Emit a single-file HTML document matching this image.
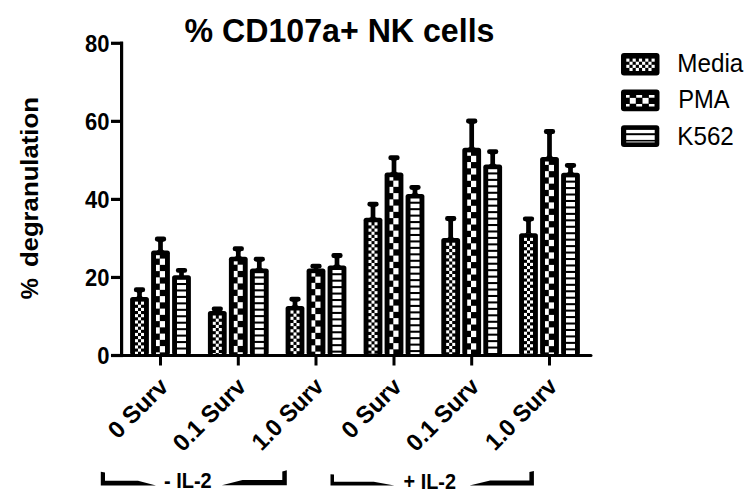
<!DOCTYPE html>
<html><head><meta charset="utf-8"><style>
html,body{margin:0;padding:0;background:#fff;}
body{width:755px;height:504px;overflow:hidden;}
svg{display:block;}
text{font-family:"Liberation Sans",sans-serif;fill:#000;}
.tl{font-size:22px;font-weight:bold;}
.xl{font-size:24px;font-weight:bold;}
.title{font-size:32px;font-weight:bold;}
.yl{font-size:26px;font-weight:bold;}
.lg{font-size:25px;}
.il{font-size:21px;font-weight:bold;}
</style></head><body>
<svg width="755" height="504" viewBox="0 0 755 504">
<text class="title" transform="translate(184.5,42.4) scale(1,1.065)" textLength="310" lengthAdjust="spacingAndGlyphs">% CD107a+ NK cells</text>
<text class="yl" transform="translate(38,299.2) rotate(-90) scale(1,0.92)" textLength="21" lengthAdjust="spacingAndGlyphs">%</text>
<text class="yl" transform="translate(38,267.1) rotate(-90) scale(1,0.92)" textLength="170" lengthAdjust="spacingAndGlyphs">degranulation</text>
<rect x="120" y="41.7" width="3.2" height="315.3" fill="#000"/>
<rect x="111" y="353.9" width="481.5" height="3.2" rx="1.5" fill="#000"/>
<rect x="111" y="353.9" width="12" height="3.2" fill="#000"/>
<text class="tl" transform="translate(109.5,364.3) scale(1,1.11)" text-anchor="end">0</text>
<rect x="111" y="275.85" width="12" height="3.2" fill="#000"/>
<text class="tl" transform="translate(109.5,286.25) scale(1,1.11)" text-anchor="end">20</text>
<rect x="111" y="197.8" width="12" height="3.2" fill="#000"/>
<text class="tl" transform="translate(109.5,208.2) scale(1,1.11)" text-anchor="end">40</text>
<rect x="111" y="119.75" width="12" height="3.2" fill="#000"/>
<text class="tl" transform="translate(109.5,130.15) scale(1,1.11)" text-anchor="end">60</text>
<rect x="111" y="41.7" width="12" height="3.2" fill="#000"/>
<text class="tl" transform="translate(109.5,52.1) scale(1,1.11)" text-anchor="end">80</text>
<rect x="159" y="354" width="3" height="11.5" fill="#000"/>
<rect x="236.8" y="354" width="3" height="11.5" fill="#000"/>
<rect x="314.5" y="354" width="3" height="11.5" fill="#000"/>
<rect x="392.5" y="354" width="3" height="11.5" fill="#000"/>
<rect x="470.2" y="354" width="3" height="11.5" fill="#000"/>
<rect x="548" y="354" width="3" height="11.5" fill="#000"/>
<path d="M135.85,291.4 L143.15,291.4 L143.15,291.9 Q141.85,291.9 141.85,293.2 L141.85,295.7 Q141.85,297 143.15,297 L143.15,297.5 L135.85,297.5 L135.85,297 Q137.15,297 137.15,295.7 L137.15,293.2 Q137.15,291.9 135.85,291.9 Z" fill="#000"/>
<rect x="133.9" y="287.3" width="11.2" height="4.8" rx="2.2" fill="#000"/>
<rect x="130.1" y="297" width="18.8" height="58" rx="2.6" fill="#000"/>
<rect x="135" y="301.6" width="3" height="3.13" fill="#fff"/>
<rect x="141" y="301.6" width="3" height="3.13" fill="#fff"/>
<rect x="138" y="304.73" width="3" height="3.13" fill="#fff"/>
<rect x="135" y="307.86" width="3" height="3.13" fill="#fff"/>
<rect x="141" y="307.86" width="3" height="3.13" fill="#fff"/>
<rect x="138" y="310.99" width="3" height="3.13" fill="#fff"/>
<rect x="135" y="314.12" width="3" height="3.13" fill="#fff"/>
<rect x="141" y="314.12" width="3" height="3.13" fill="#fff"/>
<rect x="138" y="317.25" width="3" height="3.13" fill="#fff"/>
<rect x="135" y="320.38" width="3" height="3.13" fill="#fff"/>
<rect x="141" y="320.38" width="3" height="3.13" fill="#fff"/>
<rect x="138" y="323.51" width="3" height="3.13" fill="#fff"/>
<rect x="135" y="326.64" width="3" height="3.13" fill="#fff"/>
<rect x="141" y="326.64" width="3" height="3.13" fill="#fff"/>
<rect x="138" y="329.77" width="3" height="3.13" fill="#fff"/>
<rect x="135" y="332.9" width="3" height="3.13" fill="#fff"/>
<rect x="141" y="332.9" width="3" height="3.13" fill="#fff"/>
<rect x="138" y="336.03" width="3" height="3.13" fill="#fff"/>
<rect x="135" y="339.16" width="3" height="3.13" fill="#fff"/>
<rect x="141" y="339.16" width="3" height="3.13" fill="#fff"/>
<rect x="138" y="342.29" width="3" height="3.13" fill="#fff"/>
<rect x="135" y="345.42" width="3" height="3.13" fill="#fff"/>
<rect x="141" y="345.42" width="3" height="3.13" fill="#fff"/>
<rect x="138" y="348.55" width="3" height="3.13" fill="#fff"/>
<rect x="135" y="351.68" width="3" height="2.32" fill="#fff"/>
<rect x="141" y="351.68" width="3" height="2.32" fill="#fff"/>
<path d="M156.85,240.7 L164.15,240.7 L164.15,241.2 Q162.85,241.2 162.85,242.5 L162.85,249.3 Q162.85,250.6 164.15,250.6 L164.15,251.1 L156.85,251.1 L156.85,250.6 Q158.15,250.6 158.15,249.3 L158.15,242.5 Q158.15,241.2 156.85,241.2 Z" fill="#000"/>
<rect x="154.9" y="236.6" width="11.2" height="4.8" rx="2.2" fill="#000"/>
<rect x="151.1" y="250.6" width="18.8" height="104.4" rx="2.6" fill="#000"/>
<rect x="156" y="255.2" width="3.8" height="3.4" fill="#fff"/>
<rect x="159.8" y="258.6" width="5.2" height="6.25" fill="#fff"/>
<rect x="156" y="264.85" width="3.8" height="6.25" fill="#fff"/>
<rect x="159.8" y="271.1" width="5.2" height="6.25" fill="#fff"/>
<rect x="156" y="277.35" width="3.8" height="6.25" fill="#fff"/>
<rect x="159.8" y="283.6" width="5.2" height="6.25" fill="#fff"/>
<rect x="156" y="289.85" width="3.8" height="6.25" fill="#fff"/>
<rect x="159.8" y="296.1" width="5.2" height="6.25" fill="#fff"/>
<rect x="156" y="302.35" width="3.8" height="6.25" fill="#fff"/>
<rect x="159.8" y="308.6" width="5.2" height="6.25" fill="#fff"/>
<rect x="156" y="314.85" width="3.8" height="6.25" fill="#fff"/>
<rect x="159.8" y="321.1" width="5.2" height="6.25" fill="#fff"/>
<rect x="156" y="327.35" width="3.8" height="6.25" fill="#fff"/>
<rect x="159.8" y="333.6" width="5.2" height="6.25" fill="#fff"/>
<rect x="156" y="339.85" width="3.8" height="6.25" fill="#fff"/>
<rect x="159.8" y="346.1" width="5.2" height="6.25" fill="#fff"/>
<rect x="156" y="352.35" width="3.8" height="1.65" fill="#fff"/>
<rect x="179.15" y="270.3" width="4.7" height="6.9" fill="#000"/>
<rect x="175.9" y="267.9" width="11.2" height="4.8" rx="2.2" fill="#000"/>
<rect x="172.1" y="275.2" width="18.8" height="79.8" rx="2.6" fill="#000"/>
<rect x="177" y="279.8" width="9" height="3.2" fill="#fff"/>
<rect x="177" y="285.05" width="9" height="4.4" fill="#fff"/>
<rect x="177" y="291.5" width="9" height="4.4" fill="#fff"/>
<rect x="177" y="297.95" width="9" height="4.4" fill="#fff"/>
<rect x="177" y="304.4" width="9" height="4.4" fill="#fff"/>
<rect x="177" y="310.85" width="9" height="4.4" fill="#fff"/>
<rect x="177" y="317.3" width="9" height="4.4" fill="#fff"/>
<rect x="177" y="323.75" width="9" height="4.4" fill="#fff"/>
<rect x="177" y="330.2" width="9" height="4.4" fill="#fff"/>
<rect x="177" y="336.65" width="9" height="4.4" fill="#fff"/>
<rect x="177" y="343.1" width="9" height="4.4" fill="#fff"/>
<rect x="177" y="349.55" width="9" height="4.4" fill="#fff"/>
<rect x="214.95" y="308.9" width="4.7" height="4" fill="#000"/>
<rect x="211.7" y="306.5" width="11.2" height="4.8" rx="2.2" fill="#000"/>
<rect x="207.9" y="310.9" width="18.8" height="44.1" rx="2.6" fill="#000"/>
<rect x="212.8" y="315.5" width="3" height="3.13" fill="#fff"/>
<rect x="218.8" y="315.5" width="3" height="3.13" fill="#fff"/>
<rect x="215.8" y="318.63" width="3" height="3.13" fill="#fff"/>
<rect x="212.8" y="321.76" width="3" height="3.13" fill="#fff"/>
<rect x="218.8" y="321.76" width="3" height="3.13" fill="#fff"/>
<rect x="215.8" y="324.89" width="3" height="3.13" fill="#fff"/>
<rect x="212.8" y="328.02" width="3" height="3.13" fill="#fff"/>
<rect x="218.8" y="328.02" width="3" height="3.13" fill="#fff"/>
<rect x="215.8" y="331.15" width="3" height="3.13" fill="#fff"/>
<rect x="212.8" y="334.28" width="3" height="3.13" fill="#fff"/>
<rect x="218.8" y="334.28" width="3" height="3.13" fill="#fff"/>
<rect x="215.8" y="337.41" width="3" height="3.13" fill="#fff"/>
<rect x="212.8" y="340.54" width="3" height="3.13" fill="#fff"/>
<rect x="218.8" y="340.54" width="3" height="3.13" fill="#fff"/>
<rect x="215.8" y="343.67" width="3" height="3.13" fill="#fff"/>
<rect x="212.8" y="346.8" width="3" height="3.13" fill="#fff"/>
<rect x="218.8" y="346.8" width="3" height="3.13" fill="#fff"/>
<rect x="215.8" y="349.93" width="3" height="3.13" fill="#fff"/>
<rect x="212.8" y="353.06" width="3" height="0.94" fill="#fff"/>
<rect x="218.8" y="353.06" width="3" height="0.94" fill="#fff"/>
<path d="M234.65,250.4 L241.95,250.4 L241.95,250.9 Q240.65,250.9 240.65,252.2 L240.65,255.4 Q240.65,256.7 241.95,256.7 L241.95,257.2 L234.65,257.2 L234.65,256.7 Q235.95,256.7 235.95,255.4 L235.95,252.2 Q235.95,250.9 234.65,250.9 Z" fill="#000"/>
<rect x="232.7" y="246.3" width="11.2" height="4.8" rx="2.2" fill="#000"/>
<rect x="228.9" y="256.7" width="18.8" height="98.3" rx="2.6" fill="#000"/>
<rect x="233.8" y="261.3" width="3.8" height="3.4" fill="#fff"/>
<rect x="237.6" y="264.7" width="5.2" height="6.25" fill="#fff"/>
<rect x="233.8" y="270.95" width="3.8" height="6.25" fill="#fff"/>
<rect x="237.6" y="277.2" width="5.2" height="6.25" fill="#fff"/>
<rect x="233.8" y="283.45" width="3.8" height="6.25" fill="#fff"/>
<rect x="237.6" y="289.7" width="5.2" height="6.25" fill="#fff"/>
<rect x="233.8" y="295.95" width="3.8" height="6.25" fill="#fff"/>
<rect x="237.6" y="302.2" width="5.2" height="6.25" fill="#fff"/>
<rect x="233.8" y="308.45" width="3.8" height="6.25" fill="#fff"/>
<rect x="237.6" y="314.7" width="5.2" height="6.25" fill="#fff"/>
<rect x="233.8" y="320.95" width="3.8" height="6.25" fill="#fff"/>
<rect x="237.6" y="327.2" width="5.2" height="6.25" fill="#fff"/>
<rect x="233.8" y="333.45" width="3.8" height="6.25" fill="#fff"/>
<rect x="237.6" y="339.7" width="5.2" height="6.25" fill="#fff"/>
<rect x="233.8" y="345.95" width="3.8" height="6.25" fill="#fff"/>
<rect x="237.6" y="352.2" width="5.2" height="1.8" fill="#fff"/>
<path d="M255.65,260.8 L262.95,260.8 L262.95,261.3 Q261.65,261.3 261.65,262.6 L261.65,267.3 Q261.65,268.6 262.95,268.6 L262.95,269.1 L255.65,269.1 L255.65,268.6 Q256.95,268.6 256.95,267.3 L256.95,262.6 Q256.95,261.3 255.65,261.3 Z" fill="#000"/>
<rect x="253.7" y="256.7" width="11.2" height="4.8" rx="2.2" fill="#000"/>
<rect x="249.9" y="268.6" width="18.8" height="86.4" rx="2.6" fill="#000"/>
<rect x="254.8" y="273.2" width="9" height="3.2" fill="#fff"/>
<rect x="254.8" y="278.45" width="9" height="4.4" fill="#fff"/>
<rect x="254.8" y="284.9" width="9" height="4.4" fill="#fff"/>
<rect x="254.8" y="291.35" width="9" height="4.4" fill="#fff"/>
<rect x="254.8" y="297.8" width="9" height="4.4" fill="#fff"/>
<rect x="254.8" y="304.25" width="9" height="4.4" fill="#fff"/>
<rect x="254.8" y="310.7" width="9" height="4.4" fill="#fff"/>
<rect x="254.8" y="317.15" width="9" height="4.4" fill="#fff"/>
<rect x="254.8" y="323.6" width="9" height="4.4" fill="#fff"/>
<rect x="254.8" y="330.05" width="9" height="4.4" fill="#fff"/>
<rect x="254.8" y="336.5" width="9" height="4.4" fill="#fff"/>
<rect x="254.8" y="342.95" width="9" height="4.4" fill="#fff"/>
<rect x="254.8" y="349.4" width="9" height="4.4" fill="#fff"/>
<path d="M291.35,300.8 L298.65,300.8 L298.65,301.3 Q297.35,301.3 297.35,302.6 L297.35,304.6 Q297.35,305.9 298.65,305.9 L298.65,306.4 L291.35,306.4 L291.35,305.9 Q292.65,305.9 292.65,304.6 L292.65,302.6 Q292.65,301.3 291.35,301.3 Z" fill="#000"/>
<rect x="289.4" y="296.7" width="11.2" height="4.8" rx="2.2" fill="#000"/>
<rect x="285.6" y="305.9" width="18.8" height="49.1" rx="2.6" fill="#000"/>
<rect x="290.5" y="310.5" width="3" height="3.13" fill="#fff"/>
<rect x="296.5" y="310.5" width="3" height="3.13" fill="#fff"/>
<rect x="293.5" y="313.63" width="3" height="3.13" fill="#fff"/>
<rect x="290.5" y="316.76" width="3" height="3.13" fill="#fff"/>
<rect x="296.5" y="316.76" width="3" height="3.13" fill="#fff"/>
<rect x="293.5" y="319.89" width="3" height="3.13" fill="#fff"/>
<rect x="290.5" y="323.02" width="3" height="3.13" fill="#fff"/>
<rect x="296.5" y="323.02" width="3" height="3.13" fill="#fff"/>
<rect x="293.5" y="326.15" width="3" height="3.13" fill="#fff"/>
<rect x="290.5" y="329.28" width="3" height="3.13" fill="#fff"/>
<rect x="296.5" y="329.28" width="3" height="3.13" fill="#fff"/>
<rect x="293.5" y="332.41" width="3" height="3.13" fill="#fff"/>
<rect x="290.5" y="335.54" width="3" height="3.13" fill="#fff"/>
<rect x="296.5" y="335.54" width="3" height="3.13" fill="#fff"/>
<rect x="293.5" y="338.67" width="3" height="3.13" fill="#fff"/>
<rect x="290.5" y="341.8" width="3" height="3.13" fill="#fff"/>
<rect x="296.5" y="341.8" width="3" height="3.13" fill="#fff"/>
<rect x="293.5" y="344.93" width="3" height="3.13" fill="#fff"/>
<rect x="290.5" y="348.06" width="3" height="3.13" fill="#fff"/>
<rect x="296.5" y="348.06" width="3" height="3.13" fill="#fff"/>
<rect x="293.5" y="351.19" width="3" height="2.81" fill="#fff"/>
<rect x="313.65" y="266.1" width="4.7" height="4.5" fill="#000"/>
<rect x="310.4" y="263.7" width="11.2" height="4.8" rx="2.2" fill="#000"/>
<rect x="306.6" y="268.6" width="18.8" height="86.4" rx="2.6" fill="#000"/>
<rect x="311.5" y="273.2" width="3.8" height="3.4" fill="#fff"/>
<rect x="315.3" y="276.6" width="5.2" height="6.25" fill="#fff"/>
<rect x="311.5" y="282.85" width="3.8" height="6.25" fill="#fff"/>
<rect x="315.3" y="289.1" width="5.2" height="6.25" fill="#fff"/>
<rect x="311.5" y="295.35" width="3.8" height="6.25" fill="#fff"/>
<rect x="315.3" y="301.6" width="5.2" height="6.25" fill="#fff"/>
<rect x="311.5" y="307.85" width="3.8" height="6.25" fill="#fff"/>
<rect x="315.3" y="314.1" width="5.2" height="6.25" fill="#fff"/>
<rect x="311.5" y="320.35" width="3.8" height="6.25" fill="#fff"/>
<rect x="315.3" y="326.6" width="5.2" height="6.25" fill="#fff"/>
<rect x="311.5" y="332.85" width="3.8" height="6.25" fill="#fff"/>
<rect x="315.3" y="339.1" width="5.2" height="6.25" fill="#fff"/>
<rect x="311.5" y="345.35" width="3.8" height="6.25" fill="#fff"/>
<rect x="315.3" y="351.6" width="5.2" height="2.4" fill="#fff"/>
<path d="M333.35,257.2 L340.65,257.2 L340.65,257.7 Q339.35,257.7 339.35,259 L339.35,264.1 Q339.35,265.4 340.65,265.4 L340.65,265.9 L333.35,265.9 L333.35,265.4 Q334.65,265.4 334.65,264.1 L334.65,259 Q334.65,257.7 333.35,257.7 Z" fill="#000"/>
<rect x="331.4" y="253.1" width="11.2" height="4.8" rx="2.2" fill="#000"/>
<rect x="327.6" y="265.4" width="18.8" height="89.6" rx="2.6" fill="#000"/>
<rect x="332.5" y="270" width="9" height="3.2" fill="#fff"/>
<rect x="332.5" y="275.25" width="9" height="4.4" fill="#fff"/>
<rect x="332.5" y="281.7" width="9" height="4.4" fill="#fff"/>
<rect x="332.5" y="288.15" width="9" height="4.4" fill="#fff"/>
<rect x="332.5" y="294.6" width="9" height="4.4" fill="#fff"/>
<rect x="332.5" y="301.05" width="9" height="4.4" fill="#fff"/>
<rect x="332.5" y="307.5" width="9" height="4.4" fill="#fff"/>
<rect x="332.5" y="313.95" width="9" height="4.4" fill="#fff"/>
<rect x="332.5" y="320.4" width="9" height="4.4" fill="#fff"/>
<rect x="332.5" y="326.85" width="9" height="4.4" fill="#fff"/>
<rect x="332.5" y="333.3" width="9" height="4.4" fill="#fff"/>
<rect x="332.5" y="339.75" width="9" height="4.4" fill="#fff"/>
<rect x="332.5" y="346.2" width="9" height="4.4" fill="#fff"/>
<rect x="332.5" y="352.65" width="9" height="1.35" fill="#fff"/>
<path d="M369.35,205.8 L376.65,205.8 L376.65,206.3 Q375.35,206.3 375.35,207.6 L375.35,216.4 Q375.35,217.7 376.65,217.7 L376.65,218.2 L369.35,218.2 L369.35,217.7 Q370.65,217.7 370.65,216.4 L370.65,207.6 Q370.65,206.3 369.35,206.3 Z" fill="#000"/>
<rect x="367.4" y="201.7" width="11.2" height="4.8" rx="2.2" fill="#000"/>
<rect x="363.6" y="217.7" width="18.8" height="137.3" rx="2.6" fill="#000"/>
<rect x="368.5" y="222.3" width="3" height="3.13" fill="#fff"/>
<rect x="374.5" y="222.3" width="3" height="3.13" fill="#fff"/>
<rect x="371.5" y="225.43" width="3" height="3.13" fill="#fff"/>
<rect x="368.5" y="228.56" width="3" height="3.13" fill="#fff"/>
<rect x="374.5" y="228.56" width="3" height="3.13" fill="#fff"/>
<rect x="371.5" y="231.69" width="3" height="3.13" fill="#fff"/>
<rect x="368.5" y="234.82" width="3" height="3.13" fill="#fff"/>
<rect x="374.5" y="234.82" width="3" height="3.13" fill="#fff"/>
<rect x="371.5" y="237.95" width="3" height="3.13" fill="#fff"/>
<rect x="368.5" y="241.08" width="3" height="3.13" fill="#fff"/>
<rect x="374.5" y="241.08" width="3" height="3.13" fill="#fff"/>
<rect x="371.5" y="244.21" width="3" height="3.13" fill="#fff"/>
<rect x="368.5" y="247.34" width="3" height="3.13" fill="#fff"/>
<rect x="374.5" y="247.34" width="3" height="3.13" fill="#fff"/>
<rect x="371.5" y="250.47" width="3" height="3.13" fill="#fff"/>
<rect x="368.5" y="253.6" width="3" height="3.13" fill="#fff"/>
<rect x="374.5" y="253.6" width="3" height="3.13" fill="#fff"/>
<rect x="371.5" y="256.73" width="3" height="3.13" fill="#fff"/>
<rect x="368.5" y="259.86" width="3" height="3.13" fill="#fff"/>
<rect x="374.5" y="259.86" width="3" height="3.13" fill="#fff"/>
<rect x="371.5" y="262.99" width="3" height="3.13" fill="#fff"/>
<rect x="368.5" y="266.12" width="3" height="3.13" fill="#fff"/>
<rect x="374.5" y="266.12" width="3" height="3.13" fill="#fff"/>
<rect x="371.5" y="269.25" width="3" height="3.13" fill="#fff"/>
<rect x="368.5" y="272.38" width="3" height="3.13" fill="#fff"/>
<rect x="374.5" y="272.38" width="3" height="3.13" fill="#fff"/>
<rect x="371.5" y="275.51" width="3" height="3.13" fill="#fff"/>
<rect x="368.5" y="278.64" width="3" height="3.13" fill="#fff"/>
<rect x="374.5" y="278.64" width="3" height="3.13" fill="#fff"/>
<rect x="371.5" y="281.77" width="3" height="3.13" fill="#fff"/>
<rect x="368.5" y="284.9" width="3" height="3.13" fill="#fff"/>
<rect x="374.5" y="284.9" width="3" height="3.13" fill="#fff"/>
<rect x="371.5" y="288.03" width="3" height="3.13" fill="#fff"/>
<rect x="368.5" y="291.16" width="3" height="3.13" fill="#fff"/>
<rect x="374.5" y="291.16" width="3" height="3.13" fill="#fff"/>
<rect x="371.5" y="294.29" width="3" height="3.13" fill="#fff"/>
<rect x="368.5" y="297.42" width="3" height="3.13" fill="#fff"/>
<rect x="374.5" y="297.42" width="3" height="3.13" fill="#fff"/>
<rect x="371.5" y="300.55" width="3" height="3.13" fill="#fff"/>
<rect x="368.5" y="303.68" width="3" height="3.13" fill="#fff"/>
<rect x="374.5" y="303.68" width="3" height="3.13" fill="#fff"/>
<rect x="371.5" y="306.81" width="3" height="3.13" fill="#fff"/>
<rect x="368.5" y="309.94" width="3" height="3.13" fill="#fff"/>
<rect x="374.5" y="309.94" width="3" height="3.13" fill="#fff"/>
<rect x="371.5" y="313.07" width="3" height="3.13" fill="#fff"/>
<rect x="368.5" y="316.2" width="3" height="3.13" fill="#fff"/>
<rect x="374.5" y="316.2" width="3" height="3.13" fill="#fff"/>
<rect x="371.5" y="319.33" width="3" height="3.13" fill="#fff"/>
<rect x="368.5" y="322.46" width="3" height="3.13" fill="#fff"/>
<rect x="374.5" y="322.46" width="3" height="3.13" fill="#fff"/>
<rect x="371.5" y="325.59" width="3" height="3.13" fill="#fff"/>
<rect x="368.5" y="328.72" width="3" height="3.13" fill="#fff"/>
<rect x="374.5" y="328.72" width="3" height="3.13" fill="#fff"/>
<rect x="371.5" y="331.85" width="3" height="3.13" fill="#fff"/>
<rect x="368.5" y="334.98" width="3" height="3.13" fill="#fff"/>
<rect x="374.5" y="334.98" width="3" height="3.13" fill="#fff"/>
<rect x="371.5" y="338.11" width="3" height="3.13" fill="#fff"/>
<rect x="368.5" y="341.24" width="3" height="3.13" fill="#fff"/>
<rect x="374.5" y="341.24" width="3" height="3.13" fill="#fff"/>
<rect x="371.5" y="344.37" width="3" height="3.13" fill="#fff"/>
<rect x="368.5" y="347.5" width="3" height="3.13" fill="#fff"/>
<rect x="374.5" y="347.5" width="3" height="3.13" fill="#fff"/>
<rect x="371.5" y="350.63" width="3" height="3.13" fill="#fff"/>
<rect x="368.5" y="353.76" width="3" height="0.24" fill="#fff"/>
<rect x="374.5" y="353.76" width="3" height="0.24" fill="#fff"/>
<path d="M390.35,159.4 L397.65,159.4 L397.65,159.9 Q396.35,159.9 396.35,161.2 L396.35,171.3 Q396.35,172.6 397.65,172.6 L397.65,173.1 L390.35,173.1 L390.35,172.6 Q391.65,172.6 391.65,171.3 L391.65,161.2 Q391.65,159.9 390.35,159.9 Z" fill="#000"/>
<rect x="388.4" y="155.3" width="11.2" height="4.8" rx="2.2" fill="#000"/>
<rect x="384.6" y="172.6" width="18.8" height="182.4" rx="2.6" fill="#000"/>
<rect x="389.5" y="177.2" width="3.8" height="3.4" fill="#fff"/>
<rect x="393.3" y="180.6" width="5.2" height="6.25" fill="#fff"/>
<rect x="389.5" y="186.85" width="3.8" height="6.25" fill="#fff"/>
<rect x="393.3" y="193.1" width="5.2" height="6.25" fill="#fff"/>
<rect x="389.5" y="199.35" width="3.8" height="6.25" fill="#fff"/>
<rect x="393.3" y="205.6" width="5.2" height="6.25" fill="#fff"/>
<rect x="389.5" y="211.85" width="3.8" height="6.25" fill="#fff"/>
<rect x="393.3" y="218.1" width="5.2" height="6.25" fill="#fff"/>
<rect x="389.5" y="224.35" width="3.8" height="6.25" fill="#fff"/>
<rect x="393.3" y="230.6" width="5.2" height="6.25" fill="#fff"/>
<rect x="389.5" y="236.85" width="3.8" height="6.25" fill="#fff"/>
<rect x="393.3" y="243.1" width="5.2" height="6.25" fill="#fff"/>
<rect x="389.5" y="249.35" width="3.8" height="6.25" fill="#fff"/>
<rect x="393.3" y="255.6" width="5.2" height="6.25" fill="#fff"/>
<rect x="389.5" y="261.85" width="3.8" height="6.25" fill="#fff"/>
<rect x="393.3" y="268.1" width="5.2" height="6.25" fill="#fff"/>
<rect x="389.5" y="274.35" width="3.8" height="6.25" fill="#fff"/>
<rect x="393.3" y="280.6" width="5.2" height="6.25" fill="#fff"/>
<rect x="389.5" y="286.85" width="3.8" height="6.25" fill="#fff"/>
<rect x="393.3" y="293.1" width="5.2" height="6.25" fill="#fff"/>
<rect x="389.5" y="299.35" width="3.8" height="6.25" fill="#fff"/>
<rect x="393.3" y="305.6" width="5.2" height="6.25" fill="#fff"/>
<rect x="389.5" y="311.85" width="3.8" height="6.25" fill="#fff"/>
<rect x="393.3" y="318.1" width="5.2" height="6.25" fill="#fff"/>
<rect x="389.5" y="324.35" width="3.8" height="6.25" fill="#fff"/>
<rect x="393.3" y="330.6" width="5.2" height="6.25" fill="#fff"/>
<rect x="389.5" y="336.85" width="3.8" height="6.25" fill="#fff"/>
<rect x="393.3" y="343.1" width="5.2" height="6.25" fill="#fff"/>
<rect x="389.5" y="349.35" width="3.8" height="4.65" fill="#fff"/>
<path d="M411.35,189 L418.65,189 L418.65,189.5 Q417.35,189.5 417.35,190.8 L417.35,192.6 Q417.35,193.9 418.65,193.9 L418.65,194.4 L411.35,194.4 L411.35,193.9 Q412.65,193.9 412.65,192.6 L412.65,190.8 Q412.65,189.5 411.35,189.5 Z" fill="#000"/>
<rect x="409.4" y="184.9" width="11.2" height="4.8" rx="2.2" fill="#000"/>
<rect x="405.6" y="193.9" width="18.8" height="161.1" rx="2.6" fill="#000"/>
<rect x="410.5" y="198.5" width="9" height="3.2" fill="#fff"/>
<rect x="410.5" y="203.75" width="9" height="4.4" fill="#fff"/>
<rect x="410.5" y="210.2" width="9" height="4.4" fill="#fff"/>
<rect x="410.5" y="216.65" width="9" height="4.4" fill="#fff"/>
<rect x="410.5" y="223.1" width="9" height="4.4" fill="#fff"/>
<rect x="410.5" y="229.55" width="9" height="4.4" fill="#fff"/>
<rect x="410.5" y="236" width="9" height="4.4" fill="#fff"/>
<rect x="410.5" y="242.45" width="9" height="4.4" fill="#fff"/>
<rect x="410.5" y="248.9" width="9" height="4.4" fill="#fff"/>
<rect x="410.5" y="255.35" width="9" height="4.4" fill="#fff"/>
<rect x="410.5" y="261.8" width="9" height="4.4" fill="#fff"/>
<rect x="410.5" y="268.25" width="9" height="4.4" fill="#fff"/>
<rect x="410.5" y="274.7" width="9" height="4.4" fill="#fff"/>
<rect x="410.5" y="281.15" width="9" height="4.4" fill="#fff"/>
<rect x="410.5" y="287.6" width="9" height="4.4" fill="#fff"/>
<rect x="410.5" y="294.05" width="9" height="4.4" fill="#fff"/>
<rect x="410.5" y="300.5" width="9" height="4.4" fill="#fff"/>
<rect x="410.5" y="306.95" width="9" height="4.4" fill="#fff"/>
<rect x="410.5" y="313.4" width="9" height="4.4" fill="#fff"/>
<rect x="410.5" y="319.85" width="9" height="4.4" fill="#fff"/>
<rect x="410.5" y="326.3" width="9" height="4.4" fill="#fff"/>
<rect x="410.5" y="332.75" width="9" height="4.4" fill="#fff"/>
<rect x="410.5" y="339.2" width="9" height="4.4" fill="#fff"/>
<rect x="410.5" y="345.65" width="9" height="4.4" fill="#fff"/>
<rect x="410.5" y="352.1" width="9" height="1.9" fill="#fff"/>
<path d="M447.05,220.2 L454.35,220.2 L454.35,220.7 Q453.05,220.7 453.05,222 L453.05,236.8 Q453.05,238.1 454.35,238.1 L454.35,238.6 L447.05,238.6 L447.05,238.1 Q448.35,238.1 448.35,236.8 L448.35,222 Q448.35,220.7 447.05,220.7 Z" fill="#000"/>
<rect x="445.1" y="216.1" width="11.2" height="4.8" rx="2.2" fill="#000"/>
<rect x="441.3" y="238.1" width="18.8" height="116.9" rx="2.6" fill="#000"/>
<rect x="446.2" y="242.7" width="3" height="3.13" fill="#fff"/>
<rect x="452.2" y="242.7" width="3" height="3.13" fill="#fff"/>
<rect x="449.2" y="245.83" width="3" height="3.13" fill="#fff"/>
<rect x="446.2" y="248.96" width="3" height="3.13" fill="#fff"/>
<rect x="452.2" y="248.96" width="3" height="3.13" fill="#fff"/>
<rect x="449.2" y="252.09" width="3" height="3.13" fill="#fff"/>
<rect x="446.2" y="255.22" width="3" height="3.13" fill="#fff"/>
<rect x="452.2" y="255.22" width="3" height="3.13" fill="#fff"/>
<rect x="449.2" y="258.35" width="3" height="3.13" fill="#fff"/>
<rect x="446.2" y="261.48" width="3" height="3.13" fill="#fff"/>
<rect x="452.2" y="261.48" width="3" height="3.13" fill="#fff"/>
<rect x="449.2" y="264.61" width="3" height="3.13" fill="#fff"/>
<rect x="446.2" y="267.74" width="3" height="3.13" fill="#fff"/>
<rect x="452.2" y="267.74" width="3" height="3.13" fill="#fff"/>
<rect x="449.2" y="270.87" width="3" height="3.13" fill="#fff"/>
<rect x="446.2" y="274" width="3" height="3.13" fill="#fff"/>
<rect x="452.2" y="274" width="3" height="3.13" fill="#fff"/>
<rect x="449.2" y="277.13" width="3" height="3.13" fill="#fff"/>
<rect x="446.2" y="280.26" width="3" height="3.13" fill="#fff"/>
<rect x="452.2" y="280.26" width="3" height="3.13" fill="#fff"/>
<rect x="449.2" y="283.39" width="3" height="3.13" fill="#fff"/>
<rect x="446.2" y="286.52" width="3" height="3.13" fill="#fff"/>
<rect x="452.2" y="286.52" width="3" height="3.13" fill="#fff"/>
<rect x="449.2" y="289.65" width="3" height="3.13" fill="#fff"/>
<rect x="446.2" y="292.78" width="3" height="3.13" fill="#fff"/>
<rect x="452.2" y="292.78" width="3" height="3.13" fill="#fff"/>
<rect x="449.2" y="295.91" width="3" height="3.13" fill="#fff"/>
<rect x="446.2" y="299.04" width="3" height="3.13" fill="#fff"/>
<rect x="452.2" y="299.04" width="3" height="3.13" fill="#fff"/>
<rect x="449.2" y="302.17" width="3" height="3.13" fill="#fff"/>
<rect x="446.2" y="305.3" width="3" height="3.13" fill="#fff"/>
<rect x="452.2" y="305.3" width="3" height="3.13" fill="#fff"/>
<rect x="449.2" y="308.43" width="3" height="3.13" fill="#fff"/>
<rect x="446.2" y="311.56" width="3" height="3.13" fill="#fff"/>
<rect x="452.2" y="311.56" width="3" height="3.13" fill="#fff"/>
<rect x="449.2" y="314.69" width="3" height="3.13" fill="#fff"/>
<rect x="446.2" y="317.82" width="3" height="3.13" fill="#fff"/>
<rect x="452.2" y="317.82" width="3" height="3.13" fill="#fff"/>
<rect x="449.2" y="320.95" width="3" height="3.13" fill="#fff"/>
<rect x="446.2" y="324.08" width="3" height="3.13" fill="#fff"/>
<rect x="452.2" y="324.08" width="3" height="3.13" fill="#fff"/>
<rect x="449.2" y="327.21" width="3" height="3.13" fill="#fff"/>
<rect x="446.2" y="330.34" width="3" height="3.13" fill="#fff"/>
<rect x="452.2" y="330.34" width="3" height="3.13" fill="#fff"/>
<rect x="449.2" y="333.47" width="3" height="3.13" fill="#fff"/>
<rect x="446.2" y="336.6" width="3" height="3.13" fill="#fff"/>
<rect x="452.2" y="336.6" width="3" height="3.13" fill="#fff"/>
<rect x="449.2" y="339.73" width="3" height="3.13" fill="#fff"/>
<rect x="446.2" y="342.86" width="3" height="3.13" fill="#fff"/>
<rect x="452.2" y="342.86" width="3" height="3.13" fill="#fff"/>
<rect x="449.2" y="345.99" width="3" height="3.13" fill="#fff"/>
<rect x="446.2" y="349.12" width="3" height="3.13" fill="#fff"/>
<rect x="452.2" y="349.12" width="3" height="3.13" fill="#fff"/>
<rect x="449.2" y="352.25" width="3" height="1.75" fill="#fff"/>
<path d="M468.05,122.7 L475.35,122.7 L475.35,123.2 Q474.05,123.2 474.05,124.5 L474.05,146.5 Q474.05,147.8 475.35,147.8 L475.35,148.3 L468.05,148.3 L468.05,147.8 Q469.35,147.8 469.35,146.5 L469.35,124.5 Q469.35,123.2 468.05,123.2 Z" fill="#000"/>
<rect x="466.1" y="118.6" width="11.2" height="4.8" rx="2.2" fill="#000"/>
<rect x="462.3" y="147.8" width="18.8" height="207.2" rx="2.6" fill="#000"/>
<rect x="467.2" y="152.4" width="3.8" height="3.4" fill="#fff"/>
<rect x="471" y="155.8" width="5.2" height="6.25" fill="#fff"/>
<rect x="467.2" y="162.05" width="3.8" height="6.25" fill="#fff"/>
<rect x="471" y="168.3" width="5.2" height="6.25" fill="#fff"/>
<rect x="467.2" y="174.55" width="3.8" height="6.25" fill="#fff"/>
<rect x="471" y="180.8" width="5.2" height="6.25" fill="#fff"/>
<rect x="467.2" y="187.05" width="3.8" height="6.25" fill="#fff"/>
<rect x="471" y="193.3" width="5.2" height="6.25" fill="#fff"/>
<rect x="467.2" y="199.55" width="3.8" height="6.25" fill="#fff"/>
<rect x="471" y="205.8" width="5.2" height="6.25" fill="#fff"/>
<rect x="467.2" y="212.05" width="3.8" height="6.25" fill="#fff"/>
<rect x="471" y="218.3" width="5.2" height="6.25" fill="#fff"/>
<rect x="467.2" y="224.55" width="3.8" height="6.25" fill="#fff"/>
<rect x="471" y="230.8" width="5.2" height="6.25" fill="#fff"/>
<rect x="467.2" y="237.05" width="3.8" height="6.25" fill="#fff"/>
<rect x="471" y="243.3" width="5.2" height="6.25" fill="#fff"/>
<rect x="467.2" y="249.55" width="3.8" height="6.25" fill="#fff"/>
<rect x="471" y="255.8" width="5.2" height="6.25" fill="#fff"/>
<rect x="467.2" y="262.05" width="3.8" height="6.25" fill="#fff"/>
<rect x="471" y="268.3" width="5.2" height="6.25" fill="#fff"/>
<rect x="467.2" y="274.55" width="3.8" height="6.25" fill="#fff"/>
<rect x="471" y="280.8" width="5.2" height="6.25" fill="#fff"/>
<rect x="467.2" y="287.05" width="3.8" height="6.25" fill="#fff"/>
<rect x="471" y="293.3" width="5.2" height="6.25" fill="#fff"/>
<rect x="467.2" y="299.55" width="3.8" height="6.25" fill="#fff"/>
<rect x="471" y="305.8" width="5.2" height="6.25" fill="#fff"/>
<rect x="467.2" y="312.05" width="3.8" height="6.25" fill="#fff"/>
<rect x="471" y="318.3" width="5.2" height="6.25" fill="#fff"/>
<rect x="467.2" y="324.55" width="3.8" height="6.25" fill="#fff"/>
<rect x="471" y="330.8" width="5.2" height="6.25" fill="#fff"/>
<rect x="467.2" y="337.05" width="3.8" height="6.25" fill="#fff"/>
<rect x="471" y="343.3" width="5.2" height="6.25" fill="#fff"/>
<rect x="467.2" y="349.55" width="3.8" height="4.45" fill="#fff"/>
<path d="M489.05,153.3 L496.35,153.3 L496.35,153.8 Q495.05,153.8 495.05,155.1 L495.05,163.3 Q495.05,164.6 496.35,164.6 L496.35,165.1 L489.05,165.1 L489.05,164.6 Q490.35,164.6 490.35,163.3 L490.35,155.1 Q490.35,153.8 489.05,153.8 Z" fill="#000"/>
<rect x="487.1" y="149.2" width="11.2" height="4.8" rx="2.2" fill="#000"/>
<rect x="483.3" y="164.6" width="18.8" height="190.4" rx="2.6" fill="#000"/>
<rect x="488.2" y="169.2" width="9" height="3.2" fill="#fff"/>
<rect x="488.2" y="174.45" width="9" height="4.4" fill="#fff"/>
<rect x="488.2" y="180.9" width="9" height="4.4" fill="#fff"/>
<rect x="488.2" y="187.35" width="9" height="4.4" fill="#fff"/>
<rect x="488.2" y="193.8" width="9" height="4.4" fill="#fff"/>
<rect x="488.2" y="200.25" width="9" height="4.4" fill="#fff"/>
<rect x="488.2" y="206.7" width="9" height="4.4" fill="#fff"/>
<rect x="488.2" y="213.15" width="9" height="4.4" fill="#fff"/>
<rect x="488.2" y="219.6" width="9" height="4.4" fill="#fff"/>
<rect x="488.2" y="226.05" width="9" height="4.4" fill="#fff"/>
<rect x="488.2" y="232.5" width="9" height="4.4" fill="#fff"/>
<rect x="488.2" y="238.95" width="9" height="4.4" fill="#fff"/>
<rect x="488.2" y="245.4" width="9" height="4.4" fill="#fff"/>
<rect x="488.2" y="251.85" width="9" height="4.4" fill="#fff"/>
<rect x="488.2" y="258.3" width="9" height="4.4" fill="#fff"/>
<rect x="488.2" y="264.75" width="9" height="4.4" fill="#fff"/>
<rect x="488.2" y="271.2" width="9" height="4.4" fill="#fff"/>
<rect x="488.2" y="277.65" width="9" height="4.4" fill="#fff"/>
<rect x="488.2" y="284.1" width="9" height="4.4" fill="#fff"/>
<rect x="488.2" y="290.55" width="9" height="4.4" fill="#fff"/>
<rect x="488.2" y="297" width="9" height="4.4" fill="#fff"/>
<rect x="488.2" y="303.45" width="9" height="4.4" fill="#fff"/>
<rect x="488.2" y="309.9" width="9" height="4.4" fill="#fff"/>
<rect x="488.2" y="316.35" width="9" height="4.4" fill="#fff"/>
<rect x="488.2" y="322.8" width="9" height="4.4" fill="#fff"/>
<rect x="488.2" y="329.25" width="9" height="4.4" fill="#fff"/>
<rect x="488.2" y="335.7" width="9" height="4.4" fill="#fff"/>
<rect x="488.2" y="342.15" width="9" height="4.4" fill="#fff"/>
<rect x="488.2" y="348.6" width="9" height="4.4" fill="#fff"/>
<path d="M524.85,220.5 L532.15,220.5 L532.15,221 Q530.85,221 530.85,222.3 L530.85,231.9 Q530.85,233.2 532.15,233.2 L532.15,233.7 L524.85,233.7 L524.85,233.2 Q526.15,233.2 526.15,231.9 L526.15,222.3 Q526.15,221 524.85,221 Z" fill="#000"/>
<rect x="522.9" y="216.4" width="11.2" height="4.8" rx="2.2" fill="#000"/>
<rect x="519.1" y="233.2" width="18.8" height="121.8" rx="2.6" fill="#000"/>
<rect x="524" y="237.8" width="3" height="3.13" fill="#fff"/>
<rect x="530" y="237.8" width="3" height="3.13" fill="#fff"/>
<rect x="527" y="240.93" width="3" height="3.13" fill="#fff"/>
<rect x="524" y="244.06" width="3" height="3.13" fill="#fff"/>
<rect x="530" y="244.06" width="3" height="3.13" fill="#fff"/>
<rect x="527" y="247.19" width="3" height="3.13" fill="#fff"/>
<rect x="524" y="250.32" width="3" height="3.13" fill="#fff"/>
<rect x="530" y="250.32" width="3" height="3.13" fill="#fff"/>
<rect x="527" y="253.45" width="3" height="3.13" fill="#fff"/>
<rect x="524" y="256.58" width="3" height="3.13" fill="#fff"/>
<rect x="530" y="256.58" width="3" height="3.13" fill="#fff"/>
<rect x="527" y="259.71" width="3" height="3.13" fill="#fff"/>
<rect x="524" y="262.84" width="3" height="3.13" fill="#fff"/>
<rect x="530" y="262.84" width="3" height="3.13" fill="#fff"/>
<rect x="527" y="265.97" width="3" height="3.13" fill="#fff"/>
<rect x="524" y="269.1" width="3" height="3.13" fill="#fff"/>
<rect x="530" y="269.1" width="3" height="3.13" fill="#fff"/>
<rect x="527" y="272.23" width="3" height="3.13" fill="#fff"/>
<rect x="524" y="275.36" width="3" height="3.13" fill="#fff"/>
<rect x="530" y="275.36" width="3" height="3.13" fill="#fff"/>
<rect x="527" y="278.49" width="3" height="3.13" fill="#fff"/>
<rect x="524" y="281.62" width="3" height="3.13" fill="#fff"/>
<rect x="530" y="281.62" width="3" height="3.13" fill="#fff"/>
<rect x="527" y="284.75" width="3" height="3.13" fill="#fff"/>
<rect x="524" y="287.88" width="3" height="3.13" fill="#fff"/>
<rect x="530" y="287.88" width="3" height="3.13" fill="#fff"/>
<rect x="527" y="291.01" width="3" height="3.13" fill="#fff"/>
<rect x="524" y="294.14" width="3" height="3.13" fill="#fff"/>
<rect x="530" y="294.14" width="3" height="3.13" fill="#fff"/>
<rect x="527" y="297.27" width="3" height="3.13" fill="#fff"/>
<rect x="524" y="300.4" width="3" height="3.13" fill="#fff"/>
<rect x="530" y="300.4" width="3" height="3.13" fill="#fff"/>
<rect x="527" y="303.53" width="3" height="3.13" fill="#fff"/>
<rect x="524" y="306.66" width="3" height="3.13" fill="#fff"/>
<rect x="530" y="306.66" width="3" height="3.13" fill="#fff"/>
<rect x="527" y="309.79" width="3" height="3.13" fill="#fff"/>
<rect x="524" y="312.92" width="3" height="3.13" fill="#fff"/>
<rect x="530" y="312.92" width="3" height="3.13" fill="#fff"/>
<rect x="527" y="316.05" width="3" height="3.13" fill="#fff"/>
<rect x="524" y="319.18" width="3" height="3.13" fill="#fff"/>
<rect x="530" y="319.18" width="3" height="3.13" fill="#fff"/>
<rect x="527" y="322.31" width="3" height="3.13" fill="#fff"/>
<rect x="524" y="325.44" width="3" height="3.13" fill="#fff"/>
<rect x="530" y="325.44" width="3" height="3.13" fill="#fff"/>
<rect x="527" y="328.57" width="3" height="3.13" fill="#fff"/>
<rect x="524" y="331.7" width="3" height="3.13" fill="#fff"/>
<rect x="530" y="331.7" width="3" height="3.13" fill="#fff"/>
<rect x="527" y="334.83" width="3" height="3.13" fill="#fff"/>
<rect x="524" y="337.96" width="3" height="3.13" fill="#fff"/>
<rect x="530" y="337.96" width="3" height="3.13" fill="#fff"/>
<rect x="527" y="341.09" width="3" height="3.13" fill="#fff"/>
<rect x="524" y="344.22" width="3" height="3.13" fill="#fff"/>
<rect x="530" y="344.22" width="3" height="3.13" fill="#fff"/>
<rect x="527" y="347.35" width="3" height="3.13" fill="#fff"/>
<rect x="524" y="350.48" width="3" height="3.13" fill="#fff"/>
<rect x="530" y="350.48" width="3" height="3.13" fill="#fff"/>
<rect x="527" y="353.61" width="3" height="0.39" fill="#fff"/>
<path d="M545.85,133.2 L553.15,133.2 L553.15,133.7 Q551.85,133.7 551.85,135 L551.85,155.6 Q551.85,156.9 553.15,156.9 L553.15,157.4 L545.85,157.4 L545.85,156.9 Q547.15,156.9 547.15,155.6 L547.15,135 Q547.15,133.7 545.85,133.7 Z" fill="#000"/>
<rect x="543.9" y="129.1" width="11.2" height="4.8" rx="2.2" fill="#000"/>
<rect x="540.1" y="156.9" width="18.8" height="198.1" rx="2.6" fill="#000"/>
<rect x="545" y="161.5" width="3.8" height="3.4" fill="#fff"/>
<rect x="548.8" y="164.9" width="5.2" height="6.25" fill="#fff"/>
<rect x="545" y="171.15" width="3.8" height="6.25" fill="#fff"/>
<rect x="548.8" y="177.4" width="5.2" height="6.25" fill="#fff"/>
<rect x="545" y="183.65" width="3.8" height="6.25" fill="#fff"/>
<rect x="548.8" y="189.9" width="5.2" height="6.25" fill="#fff"/>
<rect x="545" y="196.15" width="3.8" height="6.25" fill="#fff"/>
<rect x="548.8" y="202.4" width="5.2" height="6.25" fill="#fff"/>
<rect x="545" y="208.65" width="3.8" height="6.25" fill="#fff"/>
<rect x="548.8" y="214.9" width="5.2" height="6.25" fill="#fff"/>
<rect x="545" y="221.15" width="3.8" height="6.25" fill="#fff"/>
<rect x="548.8" y="227.4" width="5.2" height="6.25" fill="#fff"/>
<rect x="545" y="233.65" width="3.8" height="6.25" fill="#fff"/>
<rect x="548.8" y="239.9" width="5.2" height="6.25" fill="#fff"/>
<rect x="545" y="246.15" width="3.8" height="6.25" fill="#fff"/>
<rect x="548.8" y="252.4" width="5.2" height="6.25" fill="#fff"/>
<rect x="545" y="258.65" width="3.8" height="6.25" fill="#fff"/>
<rect x="548.8" y="264.9" width="5.2" height="6.25" fill="#fff"/>
<rect x="545" y="271.15" width="3.8" height="6.25" fill="#fff"/>
<rect x="548.8" y="277.4" width="5.2" height="6.25" fill="#fff"/>
<rect x="545" y="283.65" width="3.8" height="6.25" fill="#fff"/>
<rect x="548.8" y="289.9" width="5.2" height="6.25" fill="#fff"/>
<rect x="545" y="296.15" width="3.8" height="6.25" fill="#fff"/>
<rect x="548.8" y="302.4" width="5.2" height="6.25" fill="#fff"/>
<rect x="545" y="308.65" width="3.8" height="6.25" fill="#fff"/>
<rect x="548.8" y="314.9" width="5.2" height="6.25" fill="#fff"/>
<rect x="545" y="321.15" width="3.8" height="6.25" fill="#fff"/>
<rect x="548.8" y="327.4" width="5.2" height="6.25" fill="#fff"/>
<rect x="545" y="333.65" width="3.8" height="6.25" fill="#fff"/>
<rect x="548.8" y="339.9" width="5.2" height="6.25" fill="#fff"/>
<rect x="545" y="346.15" width="3.8" height="6.25" fill="#fff"/>
<rect x="548.8" y="352.4" width="5.2" height="1.6" fill="#fff"/>
<path d="M566.85,167 L574.15,167 L574.15,167.5 Q572.85,167.5 572.85,168.8 L572.85,171.5 Q572.85,172.8 574.15,172.8 L574.15,173.3 L566.85,173.3 L566.85,172.8 Q568.15,172.8 568.15,171.5 L568.15,168.8 Q568.15,167.5 566.85,167.5 Z" fill="#000"/>
<rect x="564.9" y="162.9" width="11.2" height="4.8" rx="2.2" fill="#000"/>
<rect x="561.1" y="172.8" width="18.8" height="182.2" rx="2.6" fill="#000"/>
<rect x="566" y="177.4" width="9" height="3.2" fill="#fff"/>
<rect x="566" y="182.65" width="9" height="4.4" fill="#fff"/>
<rect x="566" y="189.1" width="9" height="4.4" fill="#fff"/>
<rect x="566" y="195.55" width="9" height="4.4" fill="#fff"/>
<rect x="566" y="202" width="9" height="4.4" fill="#fff"/>
<rect x="566" y="208.45" width="9" height="4.4" fill="#fff"/>
<rect x="566" y="214.9" width="9" height="4.4" fill="#fff"/>
<rect x="566" y="221.35" width="9" height="4.4" fill="#fff"/>
<rect x="566" y="227.8" width="9" height="4.4" fill="#fff"/>
<rect x="566" y="234.25" width="9" height="4.4" fill="#fff"/>
<rect x="566" y="240.7" width="9" height="4.4" fill="#fff"/>
<rect x="566" y="247.15" width="9" height="4.4" fill="#fff"/>
<rect x="566" y="253.6" width="9" height="4.4" fill="#fff"/>
<rect x="566" y="260.05" width="9" height="4.4" fill="#fff"/>
<rect x="566" y="266.5" width="9" height="4.4" fill="#fff"/>
<rect x="566" y="272.95" width="9" height="4.4" fill="#fff"/>
<rect x="566" y="279.4" width="9" height="4.4" fill="#fff"/>
<rect x="566" y="285.85" width="9" height="4.4" fill="#fff"/>
<rect x="566" y="292.3" width="9" height="4.4" fill="#fff"/>
<rect x="566" y="298.75" width="9" height="4.4" fill="#fff"/>
<rect x="566" y="305.2" width="9" height="4.4" fill="#fff"/>
<rect x="566" y="311.65" width="9" height="4.4" fill="#fff"/>
<rect x="566" y="318.1" width="9" height="4.4" fill="#fff"/>
<rect x="566" y="324.55" width="9" height="4.4" fill="#fff"/>
<rect x="566" y="331" width="9" height="4.4" fill="#fff"/>
<rect x="566" y="337.45" width="9" height="4.4" fill="#fff"/>
<rect x="566" y="343.9" width="9" height="4.4" fill="#fff"/>
<rect x="566" y="350.35" width="9" height="3.65" fill="#fff"/>
<text class="xl" transform="translate(169.6,388) rotate(-45)" text-anchor="end" textLength="73.4" lengthAdjust="spacingAndGlyphs">0 Surv</text>
<text class="xl" transform="translate(247.4,388) rotate(-45)" text-anchor="end" textLength="91.5" lengthAdjust="spacingAndGlyphs">0.1 Surv</text>
<text class="xl" transform="translate(325.1,388) rotate(-45)" text-anchor="end" textLength="90.0" lengthAdjust="spacingAndGlyphs">1.0 Surv</text>
<text class="xl" transform="translate(403.1,388) rotate(-45)" text-anchor="end" textLength="73.4" lengthAdjust="spacingAndGlyphs">0 Surv</text>
<text class="xl" transform="translate(480.8,388) rotate(-45)" text-anchor="end" textLength="91.5" lengthAdjust="spacingAndGlyphs">0.1 Surv</text>
<text class="xl" transform="translate(558.6,388) rotate(-45)" text-anchor="end" textLength="90.0" lengthAdjust="spacingAndGlyphs">1.0 Surv</text>
<rect x="621" y="53" width="38.5" height="22.5" rx="3" fill="#000"/>
<rect x="626.3" y="58.6" width="3.15" height="3.1" fill="#fff"/><rect x="632.61" y="58.6" width="3.16" height="3.1" fill="#fff"/><rect x="638.92" y="58.6" width="3.15" height="3.1" fill="#fff"/><rect x="645.23" y="58.6" width="3.16" height="3.1" fill="#fff"/><rect x="651.54" y="58.6" width="3.15" height="3.1" fill="#fff"/><rect x="629.45" y="61.7" width="3.15" height="3.1" fill="#fff"/><rect x="635.76" y="61.7" width="3.15" height="3.1" fill="#fff"/><rect x="642.07" y="61.7" width="3.15" height="3.1" fill="#fff"/><rect x="648.38" y="61.7" width="3.15" height="3.1" fill="#fff"/><rect x="626.3" y="64.8" width="3.15" height="3.1" fill="#fff"/><rect x="632.61" y="64.8" width="3.16" height="3.1" fill="#fff"/><rect x="638.92" y="64.8" width="3.15" height="3.1" fill="#fff"/><rect x="645.23" y="64.8" width="3.16" height="3.1" fill="#fff"/><rect x="651.54" y="64.8" width="3.15" height="3.1" fill="#fff"/><rect x="629.45" y="67.9" width="3.15" height="3.1" fill="#fff"/><rect x="635.76" y="67.9" width="3.15" height="3.1" fill="#fff"/><rect x="642.07" y="67.9" width="3.15" height="3.1" fill="#fff"/><rect x="648.38" y="67.9" width="3.15" height="3.1" fill="#fff"/>
<rect x="621" y="89.6" width="38.5" height="21.6" rx="3" fill="#000"/>
<rect x="626" y="95" width="3.6" height="2.7" fill="#fff"/><rect x="636.2" y="95" width="5.9" height="2.7" fill="#fff"/><rect x="648.9" y="95" width="5.6" height="2.7" fill="#fff"/><rect x="629.8" y="97.9" width="6" height="5.8" fill="#fff"/><rect x="642.5" y="97.9" width="6.1" height="5.8" fill="#fff"/><rect x="626" y="104" width="3.6" height="2.5" fill="#fff"/><rect x="636.2" y="104" width="5.9" height="2.5" fill="#fff"/><rect x="648.9" y="104" width="5.6" height="2.5" fill="#fff"/>
<rect x="621" y="125.3" width="38.3" height="21.7" rx="3" fill="#000"/>
<rect x="626.2" y="129.9" width="28.5" height="3.3" fill="#fff"/>
<rect x="626.2" y="135.2" width="28.5" height="4.7" fill="#fff"/>
<rect x="626.2" y="141" width="28.5" height="1.8" fill="#808080"/>
<text class="lg" x="677.3" y="71.9" textLength="66" lengthAdjust="spacingAndGlyphs">Media</text>
<text class="lg" x="678.3" y="107.5" textLength="51.4" lengthAdjust="spacingAndGlyphs">PMA</text>
<text class="lg" x="677.3" y="144.8" textLength="56.5" lengthAdjust="spacingAndGlyphs">K562</text>
<path d="M100.8,471.7 L105,472.4 L105,480.7 L138,480.7 L156,485.4 L100.8,485.4 Z" fill="#000"/>
<path d="M221.9,485.2 L242.5,480.1 L282.3,480.1 L282.3,471.4 L286.8,470.3 L286.8,485.2 Z" fill="#000"/>
<text class="il" transform="translate(164,488.2) scale(1,1.06)" textLength="47.7" lengthAdjust="spacingAndGlyphs">- IL-2</text>
<path d="M330.5,474.3 L334,474.6 L334,481.7 L373.7,481.7 L394.4,485.4 L330.5,485.4 Z" fill="#000"/>
<path d="M469.5,485.5 L490.2,480.4 L529.4,480.4 L529.4,472 L533.9,470.9 L533.9,485.5 Z" fill="#000"/>
<text class="il" transform="translate(403.6,488.6) scale(1,1.06)" textLength="52.4" lengthAdjust="spacingAndGlyphs">+ IL-2</text>
</svg>
</body></html>
